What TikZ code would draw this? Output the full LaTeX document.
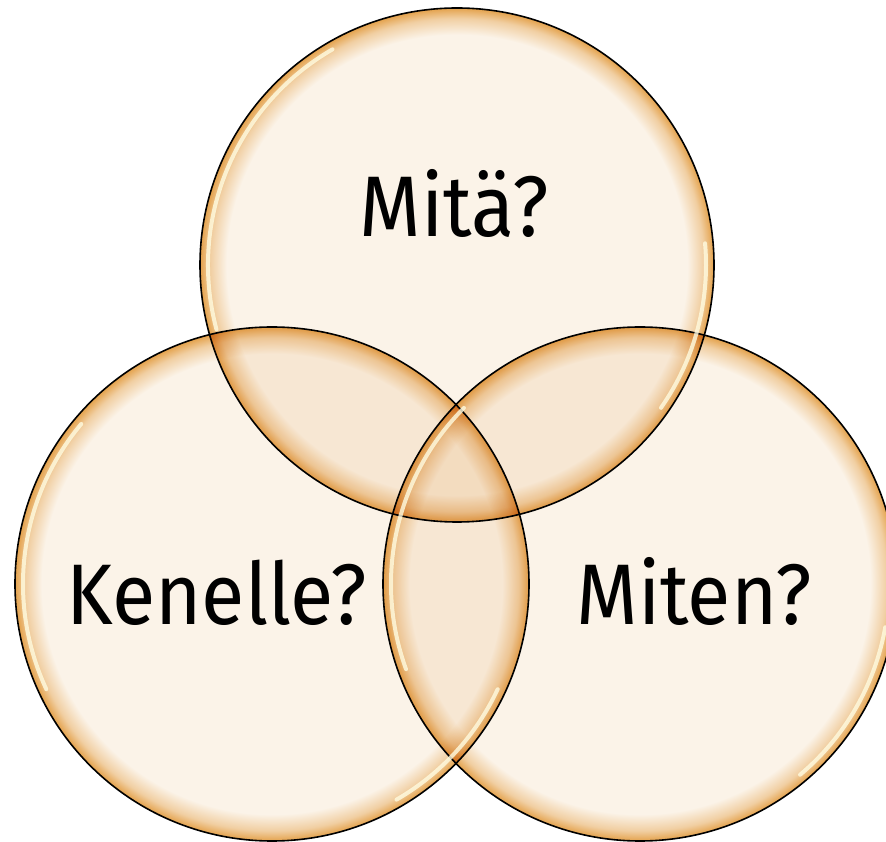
\documentclass[tikz,border=0pt]{standalone}
\usepackage{fontspec}
\setmainfont[FakeStretch=0.92]{Fira Sans}
\definecolor{venncream}{RGB}{251,243,232}
\definecolor{vennedge}{RGB}{228,162,76}
\definecolor{vennglow}{RGB}{255,252,225}
\pgfdeclareradialshading{vennring}{\pgfpoint{0bp}{0bp}}{%
  color(0bp)=(venncream); color(22.4bp)=(venncream);
  color(24bp)=(vennedge!45!venncream); color(25bp)=(vennedge);
  color(50bp)=(vennedge)}

\begin{document}
\begin{tikzpicture}[x=1pt, y=1pt,
    venn/.style={circle, draw=black, line width=1.6pt, inner sep=0pt,
      minimum size=514pt, shade, shading=vennring, blend mode=multiply},
    gloss/.style={vennglow, line width=4pt, opacity=0.8, line cap=round},
    label/.style={anchor=base, font=\fontsize{86}{100}\selectfont}]

  \useasboundingbox (0,0) rectangle (886,841);

  % Circles
  \node[venn] (mita) at (457,576) {};
  \node[venn] (kenelle) at (272,257) {};
  \node[venn] (miten) at (640,257) {};

  % Gloss
  \draw[gloss] (mita.center) ++(120:249) arc[start angle=120, end angle=195, radius=249];
  \draw[gloss] (mita.center) ++(-35:249) arc[start angle=-35, end angle=5, radius=249];
  \draw[gloss] (kenelle.center) ++(140:249) arc[start angle=140, end angle=205, radius=249];
  \draw[gloss] (kenelle.center) ++(-60:249) arc[start angle=-60, end angle=-25, radius=249];
  \draw[gloss] (miten.center) ++(135:249) arc[start angle=135, end angle=200, radius=249];
  \draw[gloss] (miten.center) ++(-50:249) arc[start angle=-50, end angle=-10, radius=249];

  % Labels
  \node[label] (mitaText) at (454,604) {Mitä?};
  \node[label] (kenelleText) at (217,216) {Kenelle?};
  \node[label] (mitenText) at (694,216) {Miten?};

\end{tikzpicture}
\end{document}
